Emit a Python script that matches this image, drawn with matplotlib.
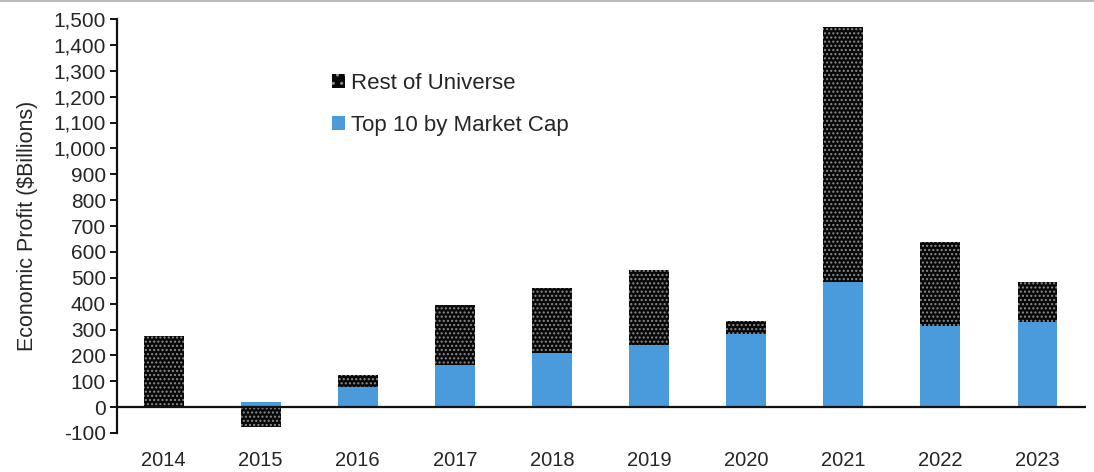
import matplotlib
matplotlib.use("Agg")
import matplotlib.pyplot as plt
from matplotlib.patches import Patch
from matplotlib.ticker import FuncFormatter
import numpy as np

years = ["2014", "2015", "2016", "2017", "2018", "2019", "2020", "2021", "2022", "2023"]
top10 = [5, 18, 78, 164, 209, 241, 282, 484, 315, 328]
rest = [270, -78, 47, 229, 253, 289, 50, 986, 325, 156]
y_ticks = list(range(-100, 1501, 100))

plt.rcParams["font.family"] = ["Liberation Sans", "DejaVu Sans"]
plt.rcParams["hatch.linewidth"] = 1.0

fig = plt.figure(figsize=(10.94, 4.72), dpi=100)
ax = fig.add_axes([117 / 1094, 1 - 433 / 472, (1086 - 117) / 1094, (433 - 19) / 472])

x = np.arange(len(years))
blue = "#4a9bdb"
width = 0.41
text_col = "#262626"
dark = "#080808"
dot = "#8c8c8c"

top10_arr = np.array(top10, dtype=float)
rest_arr = np.array(rest, dtype=float)
# Positive remainder stacks on top of the Top 10 bar; negative remainder hangs below zero
rest_bottom = np.where(rest_arr >= 0, np.maximum(top10_arr, 0), 0)

ax.bar(x, top10_arr, width, color=blue, linewidth=0, zorder=2)
ax.bar(x, rest_arr, width, bottom=rest_bottom, facecolor=dark,
       edgecolor=dot, linewidth=0, hatch="....", zorder=2)

ax.set_xlim(-0.48, 9.5)
ax.set_ylim(-100, 1500)
ax.set_yticks(y_ticks)
ax.yaxis.set_major_formatter(FuncFormatter(lambda v, p: f"{int(v):,}"))
ax.set_xticks(x)
ax.set_xticklabels(years)

for s in ["top", "right", "bottom"]:
    ax.spines[s].set_visible(False)
ax.spines["left"].set_linewidth(1.6)
ax.spines["left"].set_color("#111111")
ax.axhline(0, color="#111111", linewidth=1.6, zorder=3)

ax.tick_params(axis="y", direction="out", length=5, width=1.4, colors="#111111",
               labelsize=15, labelcolor=text_col, pad=3)
ax.tick_params(axis="x", length=0, labelsize=14.5, labelcolor=text_col, pad=13)

ax.set_ylabel("Economic Profit ($Billions)", fontsize=15.5, color=text_col, labelpad=11)

handles = [
    Patch(facecolor=dark, edgecolor=dot, linewidth=0, hatch=".."),
    Patch(facecolor=blue, linewidth=0),
]
ax.legend(handles, ["Rest of Universe", "Top 10 by Market Cap"],
          loc="upper left", bbox_to_anchor=((332 - 117) / 969, (433 - 73) / 414),
          frameon=False, borderpad=0, borderaxespad=0,
          fontsize=16, labelcolor=text_col, handlelength=0.6, handleheight=0.6,
          handletextpad=0.25, labelspacing=0.95)

fig.add_artist(plt.Line2D([0, 1], [0.998, 0.998], color="#bbbbbb", linewidth=1.5,
                          transform=fig.transFigure))

fig.savefig("out.png", dpi=100)
